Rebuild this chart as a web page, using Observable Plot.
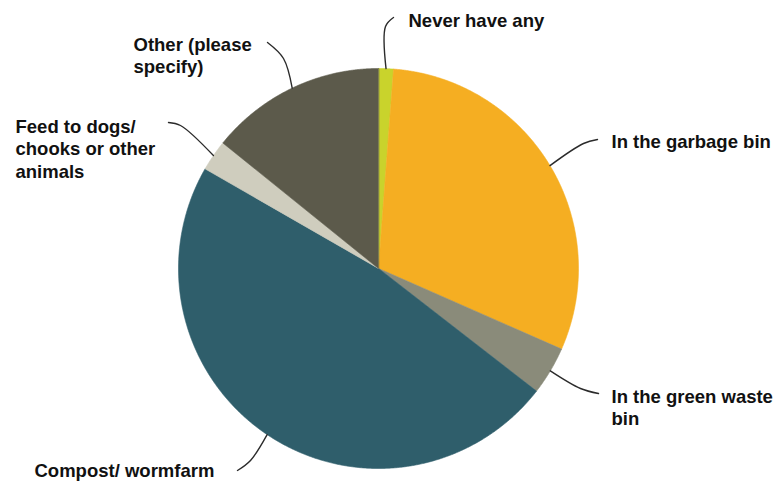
<!DOCTYPE html>
<html>
<head>
<meta charset="utf-8">
<script src="https://cdn.jsdelivr.net/npm/d3@7"></script>
<script src="https://cdn.jsdelivr.net/npm/@observablehq/plot@0.6"></script>
<style>
  html, body { margin: 0; padding: 0; background: #fff; }
  #chart svg { display: block; }
</style>
</head>
<body>
<div id="chart"></div>
<script>
// Where household food scraps go (share of respondents, %)
const categories = [
  "Never have any",
  "In the garbage bin",
  "In the green waste bin",
  "Compost/ wormfarm",
  "Feed to dogs/ chooks or other animals",
  "Other (please specify)"
];
const shares = [1.2, 30.4, 3.9, 47.8, 2.5, 14.2];
const labelLines = [
  "Never have any",
  "In the garbage bin",
  "In the green waste\nbin",
  "Compost/ wormfarm",
  "Feed to dogs/\nchooks or other\nanimals",
  "Other (please\nspecify)"
];
const sliceColors = ["#c9d32c", "#f5ae22", "#8a8b7a", "#2f5e6b", "#cfcdbe", "#5c5a4b"];

// Frame geometry (pixels)
const W = 780, H = 481, CX = 378, CY = 268, R = 200;
const toX = px => (px - CX) / R;
const toY = py => (CY - py) / R;

// Label placement: text origin (top-left of first line) and leader bend/end points
const labelLayout = [
  {text: [408, 10],  bend: [385, 26],  end: [393, 17]},
  {text: [611, 131], bend: [583, 143], end: [597, 139]},
  {text: [611, 386], bend: [580, 388], end: [598, 393]},
  {text: [34, 460],  bend: [250, 460], end: [237, 470]},
  {text: [15, 116],  bend: [180, 125], end: [168, 122]},
  {text: [133, 34],  bend: [283, 58],  end: [267, 42]}
];

const rows = categories.map((key, i) => ({key, share: shares[i], i}));
const arcs = d3.pie().sort(null).value(d => d.share)(rows);

// Slice outlines as closed polygons (angle measured clockwise from 12 o'clock)
const slicePts = [];
for (const a of arcs) {
  const key = a.data.key;
  slicePts.push({key, x: 0, y: 0});
  const n = Math.max(2, Math.ceil((a.endAngle - a.startAngle) / 0.005));
  for (let k = 0; k <= n; k++) {
    const t = a.startAngle + (a.endAngle - a.startAngle) * k / n;
    slicePts.push({key, x: Math.sin(t), y: Math.cos(t)});
  }
}

// Leader lines start on the rim at each slice's mid angle
const leaderPts = [];
arcs.forEach((a, i) => {
  const key = a.data.key;
  const mid = (a.startAngle + a.endAngle) / 2;
  const L = labelLayout[i];
  leaderPts.push({key, x: Math.sin(mid), y: Math.cos(mid)});
  leaderPts.push({key, x: toX(L.bend[0]), y: toY(L.bend[1])});
  leaderPts.push({key, x: toX(L.end[0]), y: toY(L.end[1])});
});

const labels = categories.map((key, i) => ({
  key,
  text: labelLines[i],
  x: toX(labelLayout[i].text[0]),
  y: toY(labelLayout[i].text[1])
}));

const chart = Plot.plot({
  width: W,
  height: H,
  margin: 0,
  x: {domain: [toX(0), toX(W)], axis: null},
  y: {domain: [toY(H), toY(0)], axis: null},
  color: {domain: categories, range: sliceColors},
  style: {background: "#fff", fontFamily: "'Liberation Sans', Arial, sans-serif"},
  marks: [
    Plot.line(slicePts, {
      x: "x", y: "y", z: "key",
      fill: "key", stroke: "key", strokeWidth: 0.6,
      curve: "linear-closed"
    }),
    Plot.line(leaderPts, {
      x: "x", y: "y", z: "key",
      stroke: "#2b2b2b", strokeWidth: 1.4,
      curve: "catmull-rom"
    }),
    Plot.text(labels, {
      x: "x", y: "y", text: "text",
      textAnchor: "start", lineAnchor: "top", lineHeight: 1.22,
      fontSize: 18.5, fontWeight: "bold",
      fontFamily: "'Liberation Sans', Arial, sans-serif",
      fill: "#111"
    })
  ]
});

document.getElementById("chart").appendChild(chart);
</script>
</body>
</html>
